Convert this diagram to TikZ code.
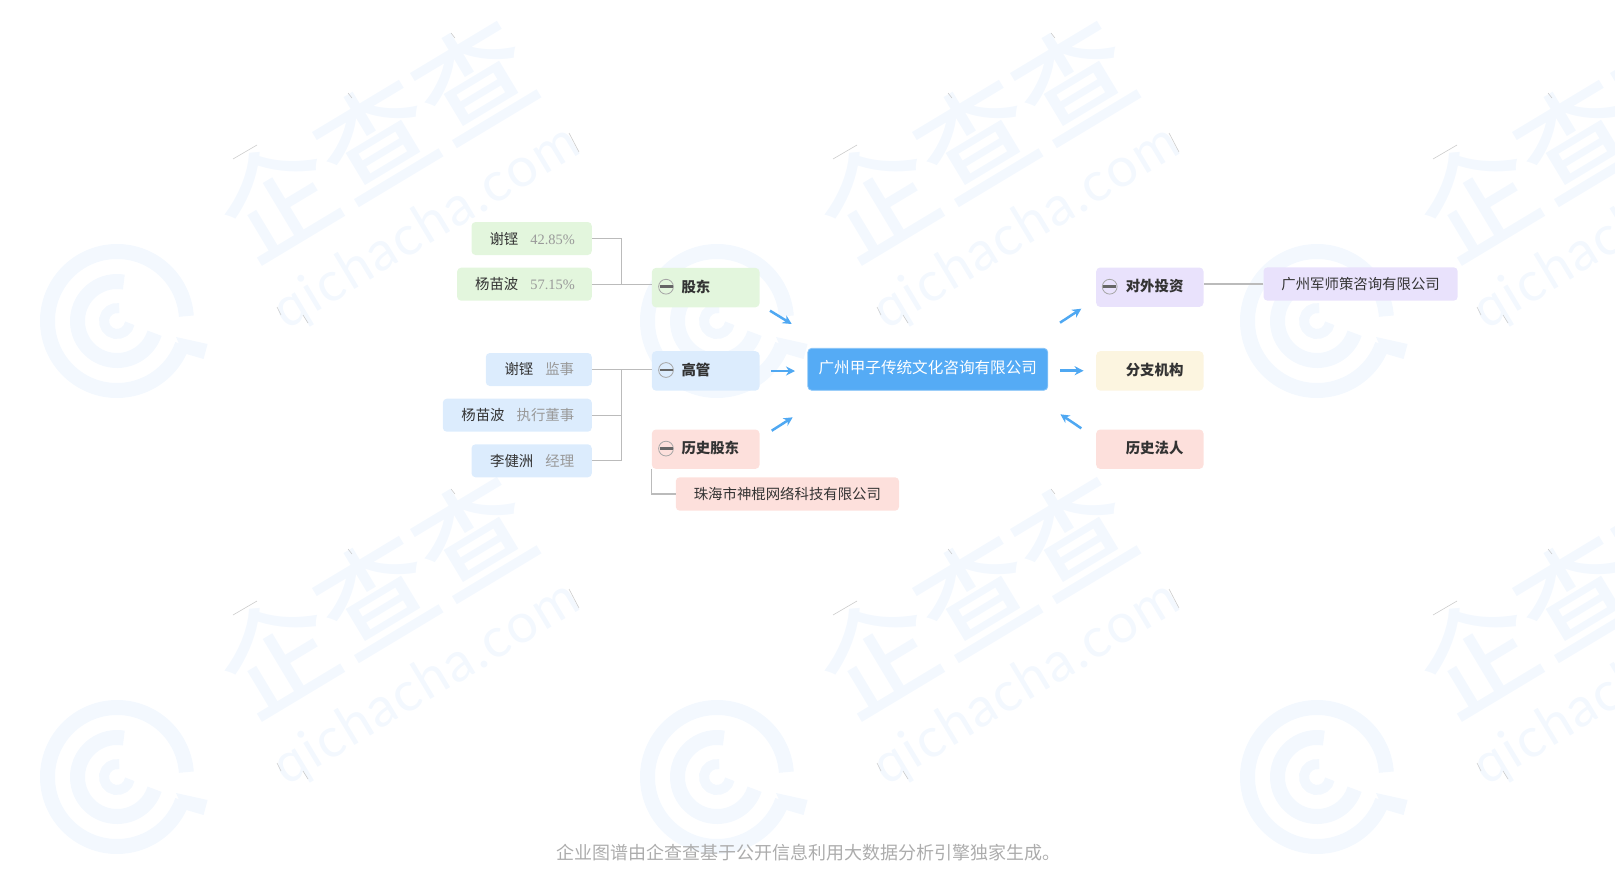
\documentclass[tikz,border=0pt]{standalone}
\usepackage{fontspec}
\setmainfont{Noto Sans CJK SC}
\newfontfamily\latinserif{Liberation Serif}
\newfontfamily\marklatin[LetterSpace=3]{Lato}
\newfontfamily\markword{Noto Sans CJK SC Medium}
\usepackage{tikz}
\usetikzlibrary{arrows.meta}
\definecolor{markblue}{HTML}{F3F8FE}
\definecolor{linegray}{HTML}{BBBBBB}
\definecolor{arrowblue}{HTML}{4FA8F2}
\definecolor{rolegray}{HTML}{999999}
\definecolor{inkgray}{HTML}{333333}
\definecolor{greenbox}{HTML}{E3F6DD}
\definecolor{bluebox}{HTML}{DCECFD}
\definecolor{pinkbox}{HTML}{FDE0DC}
\definecolor{purplebox}{HTML}{E9E2FC}
\definecolor{creambox}{HTML}{FCF5E0}
\definecolor{mainbox}{HTML}{55ABF5}
\tikzset{
  treeline/.style={draw=linegray,line width=1.3pt},
  flowarrow/.style={draw=arrowblue,line width=2.5pt,-{Stealth[length=9pt,width=9pt]}},
  entbox/.style={rounded corners=4pt,inner sep=0pt,text=inkgray,font=\fontsize{14.4pt}{17pt}\selectfont},
}
% one person: name, x of right edge, y of centre, width, colour, name text, grey text
\newcommand{\holder}[7]{\node[entbox,fill=#5,anchor=east,minimum width=#4pt,minimum height=33pt] (#1) at (#2,#3) {\hspace*{1pt}#6\hspace{12pt}\textcolor{rolegray}{#7}};}
% one branch: name, x, y, width, height, colour, label
\newcommand{\branch}[7]{\node[entbox,fill=#6,anchor=north west,minimum width=#4pt,minimum height=#5pt,text width=#4pt,align=left] (#1) at (#2,#3) {\raisebox{0.8pt}[\height][\depth]{\hspace*{29.6pt}\bfseries #7}};}
% minus sign left of a branch label
\newcommand{\minusicon}[2]{
  \draw[draw=gray!70,line width=0.8pt] (#1,#2) circle (7.4pt);
  \draw[draw=black!60,line width=2.6pt] (#1-6.5,#2) -- (#1+6.5,#2);
}
% one tile of the background logo
\newcommand{\marktile}[2]{
  \begin{scope}[shift={(#1,#2)}]
    \draw[markblue,line width=15pt] ([shift={(4:69.5pt)}]117,321) arc[start angle=4,end angle=340,radius=69.5pt];
    \fill[markblue] (176,337) -- (207.6,344) -- (203.6,359) -- (183,353) -- cycle;
    \draw[markblue,line width=15pt] ([shift={(80:39.5pt)}]117,321) arc[start angle=80,end angle=342,radius=39.5pt];
    \draw[markblue,line width=10pt] ([shift={(80:13pt)}]117,321) arc[start angle=80,end angle=350,radius=13pt];
    \node[rotate=31,text=markblue,font=\fontsize{114pt}{120pt}\markword,inner sep=0pt] (word#1#2) at (375,138) {企查查};
    \node[rotate=31,text=markblue,font=\fontsize{55pt}{60pt}\marklatin,inner sep=0pt] (site#1#2) at (427,228) {qichacha.com};
    \draw[gray!40,line width=0.6pt] (233,159) -- (257,145);
    \draw[gray!40,line width=0.6pt] (348,93) -- (352,98);
    \draw[gray!40,line width=0.6pt] (451,33) -- (455,38);
    \draw[gray!40,line width=0.6pt] (569,133) -- (579,152);
    \draw[gray!40,line width=0.6pt] (277,307) -- (281,315);
    \draw[gray!40,line width=0.6pt] (303,315) -- (308,323);
  \end{scope}
}

\begin{document}
\begin{tikzpicture}[x=1pt,y=-1pt]
    \useasboundingbox (0,0) rectangle (1615,889);
    \begin{scope}
        \clip (0,0) rectangle (1615,889);
        % row1
        \marktile{0}{0}
        \marktile{600}{0}
        \marktile{1200}{0}
        % row2
        \marktile{0}{456}
        \marktile{600}{456}
        \marktile{1200}{456}
    \end{scope}
    % centre
    \node[entbox,fill=mainbox,draw=mainbox!70!white,line width=0.8pt,text=white,minimum width=240pt,minimum height=42pt,font=\fontsize{15.6pt}{18pt}\selectfont] (company) at (927.8,369.3) {\raisebox{2.2pt}[\height][\depth]{广州甲子传统文化咨询有限公司}};
    % branches left
    \branch{gudong}{651.7}{267.7}{107.6}{39.4}{greenbox}{股东}
    \branch{gaoguan}{651.7}{351}{107.6}{39.4}{bluebox}{高管}
    \branch{oldholder}{651.7}{429.3}{107.6}{39.4}{pinkbox}{历史股东}
    % branches right
    \branch{invest}{1096}{267.3}{107.3}{39.4}{purplebox}{对外投资}
    \branch{office}{1096}{351}{107.3}{39.4}{creambox}{分支机构}
    \branch{oldlegal}{1096}{429.3}{107.3}{39.4}{pinkbox}{历史法人}
    % minus signs
    \minusicon{666}{286.7}
    \minusicon{666}{370}
    \minusicon{666}{448.6}
    \minusicon{1109.7}{286.7}
    % holders
    \holder{xiekeng}{592}{238.5}{120.3}{greenbox}{谢铿}{{\latinserif 42.85\%}}
    \holder{yangmb}{592}{284.2}{134.7}{greenbox}{杨苗波}{{\latinserif 57.15\%}}
    % managers
    \holder{xiejs}{592}{369.5}{106}{bluebox}{谢铿}{监事}
    \holder{yangds}{592}{415.2}{149}{bluebox}{杨苗波}{执行董事}
    \holder{lijl}{592}{460.8}{120.3}{bluebox}{李健洲}{经理}
    % companies
    \node[entbox,fill=pinkbox,minimum width=223.3pt,minimum height=33.4pt] (zhuhai) at (787.4,494) {珠海市神棍网络科技有限公司};
    \node[entbox,fill=purplebox,minimum width=194.2pt,minimum height=33.4pt] (junshi) at (1360.6,284) {广州军师策咨询有限公司};
    % tree lines
    \coordinate (holdtrunk) at (621.3,284.2);
    \coordinate (mantrunk) at (621.3,369.5);
    \draw[treeline] (xiekeng.east) -| (holdtrunk);
    \draw[treeline] (yangmb.east) -- (yangmb.east -| gudong.west);
    \draw[treeline] (xiejs.east) -- (xiejs.east -| gaoguan.west);
    \draw[treeline] (yangds.east) -| (mantrunk);
    \draw[treeline] (lijl.east) -| (mantrunk);
    \draw[treeline] (oldholder.south west) |- (zhuhai.west);
    \draw[treeline] (junshi.west) -- (junshi.west -| invest.east);
    % arrows
    \coordinate (a1s) at (770,310.7);
    \coordinate (a1e) at (791.7,324);
    \coordinate (a2s) at (771,371);
    \coordinate (a2e) at (795,371);
    \coordinate (a3s) at (771.7,430.7);
    \coordinate (a3e) at (792.7,417.3);
    \coordinate (a4s) at (1060,322.7);
    \coordinate (a4e) at (1081.3,308.7);
    \coordinate (a5s) at (1060,370.7);
    \coordinate (a5e) at (1083.6,370.7);
    \coordinate (a6s) at (1081.3,428.3);
    \coordinate (a6e) at (1060.4,414.3);
    \draw[flowarrow] (a1s) -- (a1e);
    \draw[flowarrow] (a2s) -- (a2e);
    \draw[flowarrow] (a3s) -- (a3e);
    \draw[flowarrow] (a4s) -- (a4e);
    \draw[flowarrow] (a5s) -- (a5e);
    \draw[flowarrow] (a6s) -- (a6e);
    % footer
    \node[text=gray!65,font=\fontsize{18pt}{20pt}\selectfont,inner sep=0pt] (footer) at (808,853) {企业图谱由企查查基于公开信息利用大数据分析引擎独家生成。};
\end{tikzpicture}
\end{document}
